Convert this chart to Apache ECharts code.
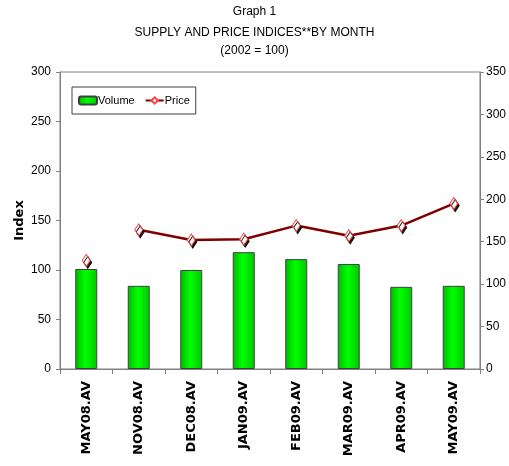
<!DOCTYPE html>
<html><head><meta charset="utf-8">
<script src="https://cdn.jsdelivr.net/npm/echarts@6/dist/echarts.min.js"></script>
<style>html,body{margin:0;padding:0;background:#fff}#c{width:509px;height:466px}</style>
</head><body><div id="c"></div>
<script>
const categories = ['MAY08.AV','NOV08.AV','DEC08.AV','JAN09.AV','FEB09.AV','MAR09.AV','APR09.AV','MAY09.AV'];
const volume = [101, 84, 100, 118, 111, 106, 83, 84];
const priceFirst = [128, null, null, null, null, null, null, null];
const priceRest = [null, 164, 152, 153, 169, 157, 169, 195];
const leftTicks = {min: 0, max: 300, interval: 50};
const rightTicks = {min: 0, max: 350, interval: 50};

const narrow = "'Liberation Sans Narrow', 'Liberation Sans', Arial, sans-serif";
const chart = echarts.init(document.getElementById('c'));
const diamondStyle = {
  color: '#ffffff', borderColor: '#ff4040', borderWidth: 1,
  shadowColor: 'rgba(0,0,0,0.9)', shadowOffsetX: 1.5, shadowOffsetY: 2, shadowBlur: 0
};
const titleStyle = {fontFamily: narrow, fontSize: 12, fontWeight: 'normal', color: '#000'};
chart.setOption({
  animation: false,
  title: [
    {text: 'Graph 1', left: 'center', top: 1, textStyle: titleStyle},
    {text: 'SUPPLY AND PRICE INDICES**BY MONTH', left: 'center', top: 22, textStyle: titleStyle},
    {text: '(2002 = 100)', left: 'center', top: 40, textStyle: titleStyle}
  ],
  grid: {left: 60, right: 28, top: 72, bottom: 97, show: true, borderColor: '#808080', borderWidth: 1},
  legend: {
    left: 72, top: 87, orient: 'horizontal',
    borderColor: '#404040', borderWidth: 1, padding: [8, 6, 8, 6],
    itemGap: 10, itemWidth: 18, itemHeight: 8,
    textStyle: {fontFamily: narrow, fontSize: 11, color: '#000', padding: [0, 0, 0, -4]},
    data: [{name: 'Volume'}, {name: 'Price'}]
  },
  xAxis: {
    type: 'category', data: categories, boundaryGap: true,
    axisLine: {lineStyle: {color: '#808080', width: 1}},
    axisTick: {show: true, length: 5, lineStyle: {color: '#808080'}},
    axisLabel: {rotate: 90, margin: 12, fontFamily: "'DejaVu Sans', sans-serif", fontWeight: 'bold', fontSize: 13, color: '#000', interval: 0}
  },
  yAxis: [
    {
      type: 'value', position: 'left', min: leftTicks.min, max: leftTicks.max, interval: leftTicks.interval,
      name: 'Index', nameLocation: 'middle', nameGap: 34, nameRotate: 90, nameMoveOverlap: false,
      nameTextStyle: {fontFamily: "'DejaVu Sans', sans-serif", fontWeight: 'bold', fontSize: 13, color: '#000'},
      axisLine: {show: true, lineStyle: {color: '#808080'}},
      axisTick: {show: true, length: 4, lineStyle: {color: '#808080'}},
      axisLabel: {margin: 9, fontFamily: narrow, fontSize: 12, color: '#000'},
      splitLine: {show: false}
    },
    {
      type: 'value', position: 'right', min: rightTicks.min, max: rightTicks.max, interval: rightTicks.interval,
      axisLine: {show: true, lineStyle: {color: '#808080'}},
      axisTick: {show: true, length: 4, lineStyle: {color: '#808080'}},
      axisLabel: {margin: 6, fontFamily: narrow, fontSize: 12, color: '#000'},
      splitLine: {show: false}
    }
  ],
  series: [
    {
      name: 'Volume', type: 'bar', yAxisIndex: 0, data: volume, barWidth: 22,
      itemStyle: {
        color: new echarts.graphic.LinearGradient(0, 0, 1, 0, [
          {offset: 0, color: '#00b800'}, {offset: 0.45, color: '#00ff00'}, {offset: 1, color: '#00c800'}
        ]),
        borderColor: '#404040', borderWidth: 1
      }
    },
    {
      name: 'Price', type: 'line', yAxisIndex: 1, data: priceFirst,
      symbol: 'diamond', symbolSize: [8, 12], showAllSymbol: true,
      lineStyle: {color: '#800000', width: 2},
      itemStyle: diamondStyle
    },
    {
      name: 'Price', type: 'line', yAxisIndex: 1, data: priceRest,
      symbol: 'diamond', symbolSize: [8, 12], showAllSymbol: true,
      lineStyle: {color: '#800000', width: 2.5},
      itemStyle: diamondStyle
    }
  ]
});
</script></body></html>
